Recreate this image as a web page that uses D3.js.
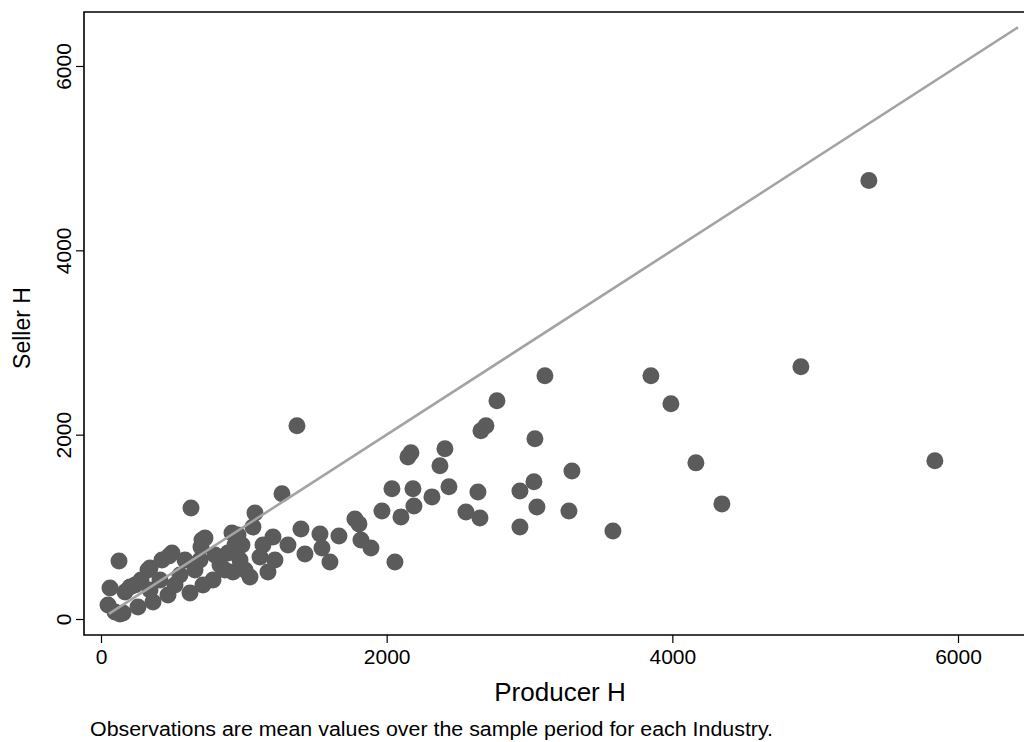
<!DOCTYPE html>
<html><head><meta charset="utf-8">
<script src="https://cdn.jsdelivr.net/npm/d3@7"></script>
<style>body{margin:0;background:#fff}svg{display:block}text{font-family:"Liberation Sans",Arial,Helvetica,sans-serif;fill:#000}</style>
</head><body><svg id="c" width="1024" height="742"></svg>
<script>
const producerH = [5376,5838,4900,3850,3990,4165,4347,3108,3584,3297,3276,3038,3031,3052,2933,2933,2772,2695,2660,2639,2653,2555,2408,2373,2436,2317,2170,2149,2184,2191,2037,2100,2058,1967,1372,1778,1806,1666,1820,1890,1603,1533,1547,1428,1400,1309,1204,1169,1267,1078,630,126,917,1064,987,1113,1218,1043,924,889,833,784,693,728,707,700,623,714,497,427,329,238,168,63,49,98,154,133,259,364,469,280,203,343,476,553,658,588,798,868,973,1008,413,518,343,938,1134,959];
const sellerH = [4757,1716,2737,2639,2335,1694,1249,2639,956,1607,1173,1955,1488,1216,1390,999,2367,2096,2042,1379,1097,1162,1846,1662,1434,1325,1803,1759,1412,1227,1412,1108,619,1173,2096,1086,1032,901,858,771,619,923,771,706,977,804,890,510,1358,1151,1205,630,934,999,804,673,641,456,510,717,586,424,641,880,858,782,282,369,717,641,532,369,293,337,152,76,65,54,130,185,261,424,348,554,684,478,532,641,695,532,641,532,424,369,315,804,804,912];
const xTicks = [0,2000,4000,6000];
const yTicks = [0,2000,4000,6000];
const fitRange = [55,6420];
const xTitle = "Producer H", yTitle = "Seller H";
const note = "Observations are mean values over the sample period for each Industry.";

const svg = d3.select("#c");
const x = d3.scaleLinear().domain([0,6000]).range([101,958]);
const y = d3.scaleLinear().domain([0,6000]).range([619,66]);
const L=84, T=12, B=635, R=1024;

// frame
svg.append("path").attr("d",`M${R},${T}H${L}V${B}H${R}`).attr("fill","none").attr("stroke","#000").attr("stroke-width",1.6);

// x axis
const xa = svg.append("g").attr("transform",`translate(0,${B})`)
  .call(d3.axisBottom(x).tickValues(xTicks).tickSize(8).tickPadding(8).tickFormat(d3.format("d")));
xa.select(".domain").remove();
xa.selectAll("line").attr("stroke","#000").attr("stroke-width",1.2);
xa.selectAll("text").attr("font-size",21).attr("fill","#000").attr("y",29).attr("dy",0).style("font-family","'Liberation Sans',Arial,sans-serif");

// y axis
const ya = svg.append("g").attr("transform",`translate(${L},0)`)
  .call(d3.axisLeft(y).tickValues(yTicks).tickSize(8).tickPadding(8).tickFormat(d3.format("d")));
ya.select(".domain").remove();
ya.selectAll("line").attr("stroke","#000").attr("stroke-width",1.2);
ya.selectAll("text").attr("font-size",21).attr("fill","#000")
  .attr("x",0).attr("dy",0).attr("text-anchor","middle")
  .attr("transform","translate(-13,0) rotate(-90)")
  .style("font-family","'Liberation Sans',Arial,sans-serif");

// titles
svg.append("text").attr("x",560).attr("y",701).attr("text-anchor","middle").attr("font-size",26).text(xTitle);
svg.append("text").attr("transform","translate(30,328) rotate(-90)").attr("text-anchor","middle").attr("font-size",23).text(yTitle);
svg.append("text").attr("x",90).attr("y",736).attr("font-size",20)
  .attr("textLength",683).attr("lengthAdjust","spacingAndGlyphs").text(note);

// points
const pts = producerH.map((v,i)=>({x:v,y:sellerH[i]}));
svg.append("g").selectAll("circle").data(pts).join("circle")
  .attr("cx",d=>x(d.x)).attr("cy",d=>y(d.y)).attr("r",8.5).attr("fill","#5b5b5b");

// 45-degree line
svg.append("line").attr("x1",x(fitRange[0])).attr("y1",y(fitRange[0])).attr("x2",x(fitRange[1])).attr("y2",y(fitRange[1]))
  .attr("stroke","#a3a3a3").attr("stroke-width",2.6);
</script></body></html>
